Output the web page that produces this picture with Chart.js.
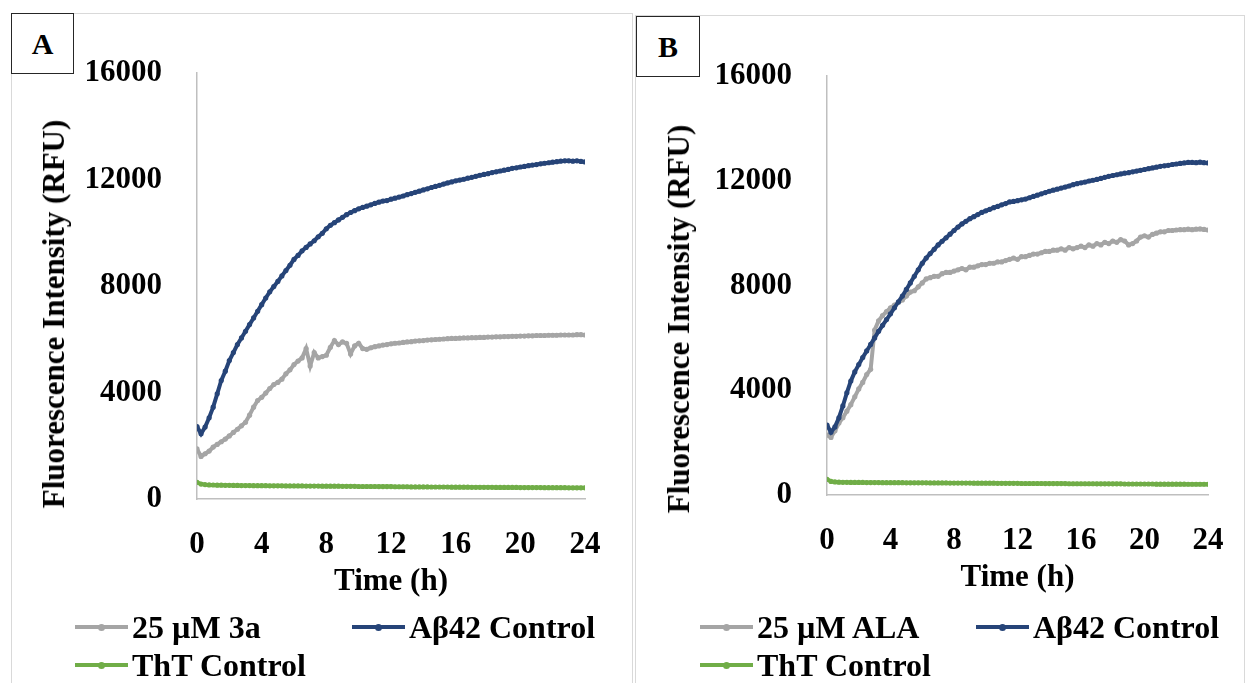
<!DOCTYPE html>
<html>
<head>
<meta charset="utf-8">
<title>ThT fluorescence kinetics</title>
<script src="https://cdn.jsdelivr.net/npm/chart.js@4.4.1/dist/chart.umd.min.js"></script>
<style>
	body {
		margin: 0;
		width: 1248px;
		height: 683px;
		overflow: hidden;
		background: #ffffff;
		position: relative;
		font-family: 'Liberation Serif', 'Times New Roman', serif;
		font-weight: bold;
	}
	.panel {
		position: absolute;
		border: 1.5px solid #d9d9d9;
		box-sizing: border-box;
	}
	.tag {
		position: absolute;
		border: 1px solid #262626;
		box-sizing: border-box;
		background: #ffffff;
		font-size: 30px;
		display: flex;
		align-items: center;
		justify-content: center;
	}
	.ytitle {
		position: absolute;
		white-space: nowrap;
		font-size: 31px;
		transform: translate(-50%, -50%) rotate(-90deg);
	}
	.legItem {
		position: absolute;
		height: 36px;
		display: flex;
		align-items: center;
		white-space: nowrap;
		font-size: 32px;
	}
	.legLine {
		position: relative;
		width: 53px;
		height: 4px;
		margin-right: 4px;
	}
	.legDot {
		position: absolute;
		left: 23px;
		top: -1.5px;
		width: 7px;
		height: 7px;
		border-radius: 50%;
	}
	canvas {
		position: absolute;
		top: 0;
	}
</style>
</head>
<body>
<div class="panel" style="left:11px; top:13px; width:622px; height:700px;"></div>
<div class="panel" style="left:635px; top:15px; width:610px; height:700px;"></div>

<canvas id="chartA" width="630" height="683" style="left:0px;"></canvas>
<canvas id="chartB" width="618" height="683" style="left:630px;"></canvas>

<div class="tag" style="left:11px; top:13px; width:63px; height:61px;">A</div>
<div class="tag" style="left:636px; top:16px; width:64px; height:61px;">B</div>

<div class="ytitle" style="left:54px; top:314px;">Fluorescence Intensity (RFU)</div>
<div class="ytitle" style="left:679px; top:319px;">Fluorescence Intensity (RFU)</div>

<div id="legendA"></div>
<div id="legendB"></div>

<script>
//	Sampling times in hours (one reading every 15 min)
var timeHours = [
	0, 0.25, 0.5, 0.75, 1, 1.25, 1.5, 1.75,
	2, 2.25, 2.5, 2.75, 3, 3.25, 3.5, 3.75,
	4, 4.25, 4.5, 4.75, 5, 5.25, 5.5, 5.75,
	6, 6.25, 6.5, 6.75, 7, 7.25, 7.5, 7.75,
	8, 8.25, 8.5, 8.75, 9, 9.25, 9.5, 9.75,
	10, 10.25, 10.5, 10.75, 11, 11.25, 11.5, 11.75,
	12, 12.25, 12.5, 12.75, 13, 13.25, 13.5, 13.75,
	14, 14.25, 14.5, 14.75, 15, 15.25, 15.5, 15.75,
	16, 16.25, 16.5, 16.75, 17, 17.25, 17.5, 17.75,
	18, 18.25, 18.5, 18.75, 19, 19.25, 19.5, 19.75,
	20, 20.25, 20.5, 20.75, 21, 21.25, 21.5, 21.75,
	22, 22.25, 22.5, 22.75, 23, 23.25, 23.5, 23.75,
	24
];

//	Panel A : 25 uM 3a
var cmpd3aA = [
	1880, 1600, 1700, 1800, 1950, 2050, 2150, 2250,
	2370, 2500, 2620, 2750, 2880, 3150, 3450, 3700,
	3820, 3980, 4150, 4300, 4380, 4500, 4700, 4850,
	5050, 5180, 5300, 5650, 5000, 5500, 5300, 5350,
	5400, 5700, 5950, 5800, 5900, 5850, 5450, 5750,
	5850, 5650, 5620, 5680, 5720, 5750, 5780, 5800,
	5830, 5850, 5860, 5880, 5900, 5910, 5930, 5940,
	5950, 5970, 5980, 5990, 6000, 6010, 6020, 6030,
	6030, 6040, 6050, 6050, 6060, 6060, 6070, 6070,
	6080, 6080, 6090, 6090, 6100, 6100, 6110, 6110,
	6120, 6120, 6130, 6130, 6140, 6140, 6140, 6150,
	6150, 6150, 6160, 6160, 6160, 6160, 6170, 6170,
	6160
];
//	Panel A : Abeta42 control
var abControlA = [
	2720, 2450, 2700, 3050, 3450, 3950, 4450, 4800,
	5200, 5500, 5800, 6050, 6300, 6550, 6800, 7050,
	7300, 7550, 7780, 7980, 8170, 8380, 8580, 8780,
	9000, 9150, 9320, 9450, 9580, 9700, 9850, 9980,
	10150, 10280, 10380, 10480, 10580, 10680, 10760, 10830,
	10900, 10950, 11000, 11050, 11100, 11150, 11190, 11210,
	11260, 11300, 11340, 11380, 11430, 11470, 11520, 11560,
	11610, 11650, 11700, 11740, 11780, 11830, 11870, 11910,
	11950, 11980, 12010, 12050, 12080, 12120, 12160, 12190,
	12220, 12260, 12290, 12320, 12350, 12380, 12420, 12440,
	12470, 12490, 12520, 12540, 12560, 12590, 12610, 12630,
	12650, 12670, 12690, 12700, 12700, 12690, 12700, 12680,
	12660
];
//	Panel A : ThT control
var thtControlA = [
	630, 560, 540, 530, 525, 520, 520, 515,
	515, 510, 510, 505, 505, 505, 500, 500,
	500, 500, 495, 495, 495, 495, 490, 490,
	490, 490, 490, 485, 485, 485, 485, 480,
	480, 480, 480, 480, 475, 475, 475, 475,
	470, 470, 470, 470, 470, 465, 465, 465,
	465, 460, 460, 460, 460, 455, 455, 455,
	455, 455, 450, 450, 450, 450, 450, 445,
	445, 445, 445, 445, 440, 440, 440, 440,
	440, 440, 435, 435, 435, 435, 435, 435,
	430, 430, 430, 430, 430, 430, 425, 425,
	425, 425, 425, 425, 420, 420, 420, 420,
	420
];

//	Panel B : 25 uM ALA
var alaB = [
	2290, 2200, 2450, 2750, 2950, 3200, 3450, 3750,
	4050, 4300, 4600, 4800, 6300, 6650, 6850, 7000,
	7150, 7250, 7350, 7450, 7600, 7750, 7800, 7950,
	8100, 8250, 8300, 8350, 8350, 8450, 8500, 8500,
	8550, 8600, 8650, 8600, 8700, 8700, 8750, 8800,
	8800, 8850, 8850, 8900, 8900, 8950, 9000, 9050,
	9000, 9100, 9100, 9150, 9200, 9200, 9250, 9300,
	9300, 9350, 9350, 9400, 9350, 9450, 9400, 9450,
	9500, 9450, 9550, 9500, 9600, 9550, 9650, 9600,
	9700, 9650, 9750, 9700, 9550, 9600, 9700, 9850,
	9900, 9850, 9950, 10000, 10050, 10050, 10100, 10100,
	10120, 10130, 10130, 10150, 10130, 10150, 10160, 10140,
	10120
];
//	Panel B : Abeta42 control
var abControlB = [
	2670, 2400, 2600, 2950, 3400, 3900, 4350, 4700,
	4980, 5250, 5500, 5750, 6000, 6250, 6480, 6700,
	6920, 7150, 7380, 7600, 7850, 8100, 8350, 8600,
	8850, 9050, 9220, 9380, 9550, 9690, 9820, 9960,
	10100, 10230, 10350, 10450, 10550, 10630, 10710, 10790,
	10850, 10910, 10970, 11020, 11080, 11130, 11190, 11210,
	11240, 11270, 11300, 11350, 11400, 11450, 11500, 11550,
	11600, 11640, 11680, 11720, 11760, 11800, 11850, 11890,
	11920, 11950, 11990, 12020, 12050, 12090, 12130, 12170,
	12200, 12230, 12260, 12290, 12310, 12340, 12370, 12400,
	12430, 12460, 12490, 12520, 12550, 12570, 12590, 12620,
	12640, 12660, 12680, 12700, 12700, 12690, 12710, 12690,
	12680
];
//	Panel B : ThT control
var thtControlB = [
	600, 520, 500, 490, 485, 485, 480, 480,
	480, 480, 475, 475, 475, 475, 470, 470,
	470, 470, 470, 470, 465, 465, 465, 465,
	465, 465, 460, 460, 460, 460, 460, 455,
	455, 455, 455, 455, 455, 450, 450, 450,
	450, 450, 450, 445, 445, 445, 445, 445,
	445, 440, 440, 440, 440, 440, 440, 435,
	435, 435, 435, 435, 435, 430, 430, 430,
	430, 430, 430, 430, 425, 425, 425, 425,
	425, 425, 425, 420, 420, 420, 420, 420,
	420, 420, 420, 415, 415, 415, 415, 415,
	415, 415, 415, 410, 410, 410, 410, 410,
	410
];

//	Axis ticks
var xTicks = [0, 4, 8, 12, 16, 20, 24];
var yTicks = [0, 4000, 8000, 12000, 16000];

var labelsA = ['25 \u00b5M 3a', 'A\u03b242 Control', 'ThT Control'];
var labelsB = ['25 \u00b5M ALA', 'A\u03b242 Control', 'ThT Control'];
var seriesColors = ['#a5a5a5', '#264478', '#70ad47'];

var fontBold = { family: "'Liberation Serif', 'Times New Roman', serif", size: 31, weight: 'bold' };

/**
 *	Pair the time array with one series for the linear x scale
 */
function toPoints(values) {
	var pts = [];
	for (let i = 0; i < timeHours.length; i++) {
		pts.push({ x: timeHours[i], y: values[i] });
	}
	return pts;
}

/**
 *	Plain tick text, no thousands separator
 */
function plainTick(value) {
	return String(value);
}

/**
 *	Build one panel chart. box = chart area edges inside the canvas
 */
function makePanel(canvasId, labels, seriesList, box) {
	var ctx = document.getElementById(canvasId);
	var datasets = [];
	for (let i = 0; i < seriesList.length; i++) {
		datasets.push({
			label: labels[i],
			data: toPoints(seriesList[i]),
			borderColor: seriesColors[i],
			backgroundColor: seriesColors[i],
			borderWidth: 4,
			pointRadius: 2.6,
			pointBorderWidth: 0,
			pointBackgroundColor: seriesColors[i],
			tension: 0,
			//	blue control is drawn on top of the grey curve
			order: i === 1 ? 0 : i + 1
		});
	}
	return new Chart(ctx, {
		type: 'line',
		data: { datasets: datasets },
		options: {
			responsive: false,
			animation: false,
			layout: {
				padding: { left: 0, top: box.top, right: ctx.width - box.right, bottom: 0 }
			},
			plugins: {
				legend: { display: false },
				tooltip: { enabled: false }
			},
			scales: {
				x: {
					type: 'linear',
					min: 0,
					max: 24,
					afterFit: function (scale) {
						scale.height = ctx.height - box.bottom;
					},
					afterBuildTicks: function (scale) {
						scale.ticks = xTicks.map(function (v) { return { value: v }; });
					},
					grid: { display: false },
					border: { display: true, color: '#bfbfbf', width: 1.5 },
					ticks: { color: '#000000', font: fontBold, padding: 19, maxRotation: 0, callback: plainTick },
					title: {
						display: true,
						text: 'Time (h)',
						color: '#000000',
						font: fontBold,
						padding: { top: 0, bottom: box.titleGap }
					}
				},
				y: {
					min: 0,
					max: 16000,
					afterFit: function (scale) {
						scale.width = box.left;
					},
					afterBuildTicks: function (scale) {
						scale.ticks = yTicks.map(function (v) { return { value: v }; });
					},
					grid: { display: false },
					border: { display: true, color: '#bfbfbf', width: 1.5 },
					ticks: { color: '#000000', font: fontBold, padding: 27, callback: plainTick }
				}
			}
		}
	});
}

/**
 *	Legend drawn as html under each panel
 */
function makeLegend(holderId, labels, spots) {
	var holder = document.getElementById(holderId);
	for (let i = 0; i < labels.length; i++) {
		var item = document.createElement('div');
		item.className = 'legItem';
		item.style.left = spots[i][0] + 'px';
		item.style.top = (spots[i][1] - 18) + 'px';
		var line = document.createElement('div');
		line.className = 'legLine';
		line.style.background = seriesColors[i];
		var dot = document.createElement('div');
		dot.className = 'legDot';
		dot.style.background = seriesColors[i];
		line.appendChild(dot);
		item.appendChild(line);
		item.appendChild(document.createTextNode(labels[i]));
		holder.appendChild(item);
	}
}

makePanel('chartA', labelsA, [cmpd3aA, abControlA, thtControlA],
	{ left: 197, right: 585, top: 73, bottom: 499, titleGap: 82 });
makePanel('chartB', labelsB, [alaB, abControlB, thtControlB],
	{ left: 197, right: 578, top: 76, bottom: 495, titleGap: 86 });

makeLegend('legendA', labelsA, [[75, 627], [352, 627], [75, 665]]);
makeLegend('legendB', labelsB, [[700, 627], [976, 627], [700, 665]]);
</script>
</body>
</html>
